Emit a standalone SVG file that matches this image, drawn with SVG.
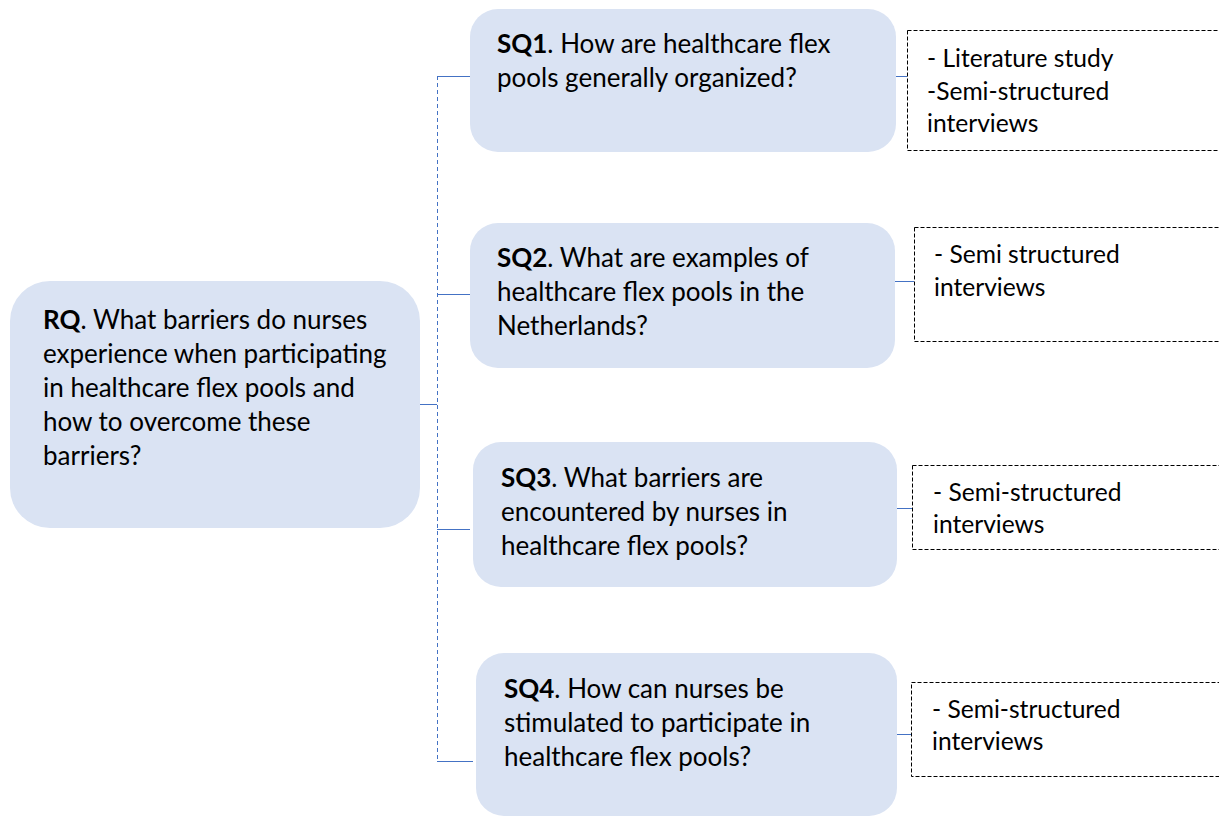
<svg xmlns="http://www.w3.org/2000/svg" width="1219" height="817" viewBox="0 0 1219 817">
  <style>
    .q { fill: #dae3f3; }
    .m { fill: #ffffff; stroke: #000000; stroke-width: 1; stroke-dasharray: 4 2; }
    .t { font-family: Lato, "Liberation Sans", sans-serif; font-size: 26px; fill: #000000; }
    .s { font-size: 24.6px; }
    .b { font-weight: bold; }
    .link { stroke: #4472c4; stroke-width: 1; fill: none; }
    .spine { stroke: #4472c4; stroke-width: 1; fill: none; stroke-dasharray: 4 3; }
  </style>
  <rect width="1219" height="817" fill="#ffffff"/>

  <!-- connectors -->
  <g id="connectors">
    <line class="spine" x1="437.5" y1="76" x2="437.5" y2="761"/>
    <line class="link" x1="420" y1="404.5" x2="437" y2="404.5"/>
    <line class="link" x1="437" y1="76.5" x2="470" y2="76.5"/>
    <line class="link" x1="437" y1="294.5" x2="471" y2="294.5"/>
    <line class="link" x1="437" y1="529.5" x2="470" y2="529.5"/>
    <line class="link" x1="437" y1="761.5" x2="473" y2="761.5"/>
    <line class="link" x1="894" y1="76.5" x2="907" y2="76.5"/>
    <line class="link" x1="894" y1="281.5" x2="914" y2="281.5"/>
    <line class="link" x1="895" y1="508.5" x2="912" y2="508.5"/>
    <line class="link" x1="895" y1="734.5" x2="911" y2="734.5"/>
  </g>

  <!-- main research question -->
  <g id="rq">
    <rect class="q" x="10" y="281" width="410" height="247" rx="40" ry="40"/>
    <text class="t">
      <tspan x="43" y="329"><tspan class="b">RQ</tspan>. What barriers do nurses</tspan>
      <tspan x="43" y="363">experience when participating</tspan>
      <tspan x="43" y="397">in healthcare flex pools and</tspan>
      <tspan x="43" y="431">how to overcome these</tspan>
      <tspan x="43" y="465">barriers?</tspan>
    </text>
  </g>

  <!-- sub-questions -->
  <g id="sq1">
    <rect class="q" x="470" y="9" width="426" height="143" rx="28" ry="28"/>
    <text class="t">
      <tspan x="497" y="53"><tspan class="b">SQ1</tspan>. How are healthcare flex</tspan>
      <tspan x="497" y="87">pools generally organized?</tspan>
    </text>
  </g>
  <g id="sq2">
    <rect class="q" x="470" y="223" width="425" height="145" rx="28" ry="28"/>
    <text class="t">
      <tspan x="497" y="267"><tspan class="b">SQ2</tspan>. What are examples of</tspan>
      <tspan x="497" y="301">healthcare flex pools in the</tspan>
      <tspan x="497" y="335">Netherlands?</tspan>
    </text>
  </g>
  <g id="sq3">
    <rect class="q" x="473" y="442" width="424" height="145" rx="28" ry="28"/>
    <text class="t">
      <tspan x="501" y="487"><tspan class="b">SQ3</tspan>. What barriers are</tspan>
      <tspan x="501" y="521">encountered by nurses in</tspan>
      <tspan x="501" y="555">healthcare flex pools?</tspan>
    </text>
  </g>
  <g id="sq4">
    <rect class="q" x="476" y="653" width="421" height="163" rx="28" ry="28"/>
    <text class="t">
      <tspan x="504" y="698"><tspan class="b">SQ4</tspan>. How can nurses be</tspan>
      <tspan x="504" y="732">stimulated to participate in</tspan>
      <tspan x="504" y="766">healthcare flex pools?</tspan>
    </text>
  </g>

  <!-- methods -->
  <g id="m1">
    <rect class="m" x="907.5" y="30.5" width="320" height="120"/>
    <text class="t s">
      <tspan x="927" y="67">- Literature study</tspan>
      <tspan x="927" y="100">-Semi-structured</tspan>
      <tspan x="927" y="132">interviews</tspan>
    </text>
  </g>
  <g id="m2">
    <rect class="m" x="914.5" y="227.5" width="320" height="114"/>
    <text class="t s">
      <tspan x="934" y="263">- Semi structured</tspan>
      <tspan x="934" y="296">interviews</tspan>
    </text>
  </g>
  <g id="m3">
    <rect class="m" x="912.5" y="465.5" width="320" height="84"/>
    <text class="t s">
      <tspan x="933" y="501">- Semi-structured</tspan>
      <tspan x="933" y="533">interviews</tspan>
    </text>
  </g>
  <g id="m4">
    <rect class="m" x="911.5" y="682.5" width="320" height="94"/>
    <text class="t s">
      <tspan x="932" y="718">- Semi-structured</tspan>
      <tspan x="932" y="750">interviews</tspan>
    </text>
  </g>
</svg>
